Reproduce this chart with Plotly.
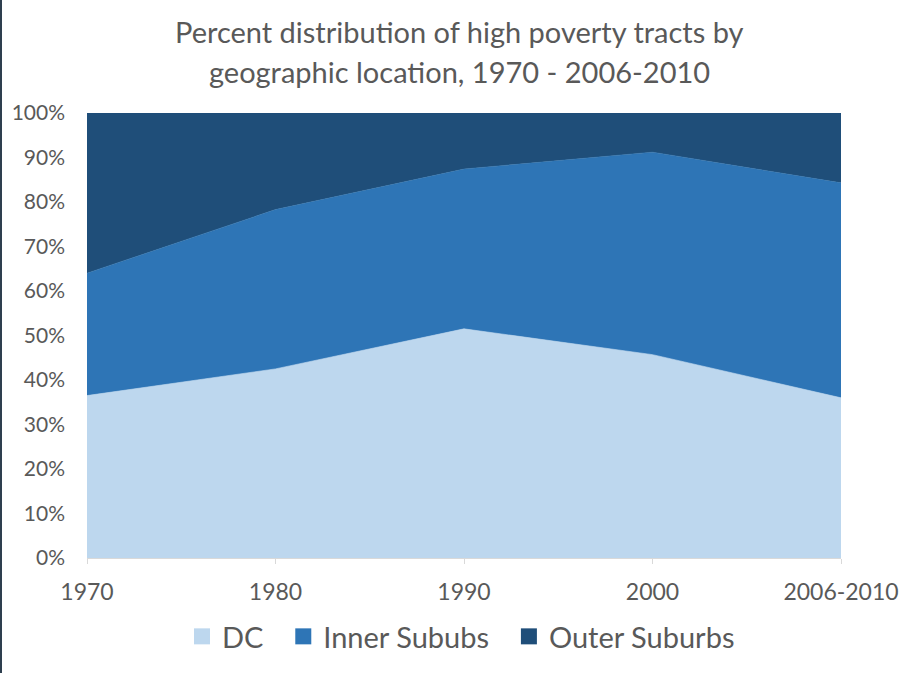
import plotly.graph_objects as go

years = ["1970", "1980", "1990", "2000", "2006-2010"]
dc = [36.5, 42.5, 51.5, 45.7, 36.0]
inner = [27.5, 35.8, 35.9, 45.5, 48.3]
outer = [36.0, 21.7, 12.6, 8.8, 15.7]
y_ticks = [0, 10, 20, 30, 40, 50, 60, 70, 80, 90, 100]
y_tick_labels = [f"{v}%" for v in y_ticks]
series_names = ["DC", "Inner Sububs", "Outer Suburbs"]
title_lines = ["Percent distribution of high poverty tracts by", "geographic location, 1970 - 2006-2010"]

FONT = "Lato, Carlito, sans-serif"
GREY = "#595959"
COLORS = ["#BDD7EE", "#2E75B6", "#1F4E79"]

fig = go.Figure()
for name, vals, col in zip(series_names, [dc, inner, outer], COLORS):
    fig.add_trace(go.Scatter(
        x=years, y=vals, name=name, mode="lines", stackgroup="one",
        line=dict(width=0.6, color=col), fillcolor=col, hoverinfo="skip",
        showlegend=False))
pad = "\u00a0\u00a0"
for i, (name, col) in enumerate(zip(series_names, COLORS)):
    label = name + (pad if i < len(series_names) - 1 else "")
    fig.add_trace(go.Scatter(
        x=[None], y=[None], name=label, mode="markers",
        marker=dict(symbol="square", size=17, color=col), hoverinfo="skip"))

W, H = 914, 673
ml, mr, mt, mb = 87, 73, 113, 115
pw = W - ml - mr
ph = H - mt - mb

fig.update_layout(
    width=W, height=H,
    margin=dict(l=ml, r=mr, t=mt, b=mb, autoexpand=False),
    paper_bgcolor="white", plot_bgcolor="white",
    font=dict(family=FONT, color=GREY),
    showlegend=True,
    legend=dict(orientation="h", x=(461 - ml) / pw, xanchor="center",
                y=(558 - 611) / ph, yanchor="top",
                traceorder="normal", font=dict(size=29, color=GREY), itemwidth=30),
    xaxis=dict(type="category", range=[0, 4], showgrid=False, showline=True,
               linecolor="#D9D9D9", linewidth=1, ticks="outside", ticklen=5,
               tickcolor="#D9D9D9", tickfont=dict(size=23, color=GREY),
               ticklabelstandoff=8, automargin=False,
               zeroline=False, fixedrange=True),
    yaxis=dict(range=[0, 100], tickvals=y_ticks, ticktext=y_tick_labels,
               showgrid=False, showline=False, zeroline=False, automargin=False,
               tickfont=dict(size=21, color=GREY), ticklabelstandoff=21, fixedrange=True),
    annotations=[dict(text=t, xref="paper", yref="paper",
                      x=(459 - ml) / pw, xanchor="center",
                      y=1 + (mt - yc) / ph, yanchor="middle", showarrow=False,
                      font=dict(size=29, color=GREY, family=FONT))
                 for t, yc in zip(title_lines, [31, 71])],
    shapes=[dict(type="rect", xref="paper", yref="paper",
                 x0=-ml / pw, x1=(2 - ml) / pw, y0=-mb / ph, y1=1 + mt / ph,
                 fillcolor="#2E3F4F", line=dict(width=0), layer="above")],
)

fig.write_html("out.html", config={"displayModeBar": False},
               post_script="document.body.style.margin='0';document.body.style.overflow='hidden';")
